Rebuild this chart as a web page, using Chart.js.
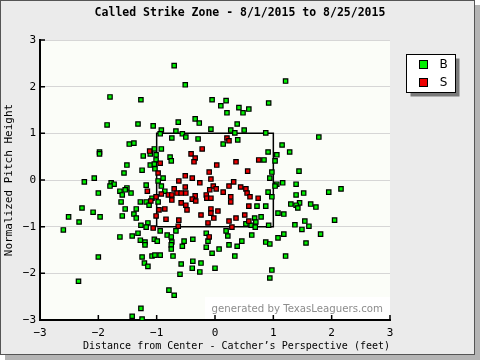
<!DOCTYPE html>
<html><head><meta charset="utf-8">
<script src="https://cdn.jsdelivr.net/npm/chart.js@4/dist/chart.umd.min.js"></script>
<style>html,body{margin:0;padding:0;background:#fff;}canvas{display:block;}</style>
</head><body><canvas id="c" width="480" height="360"></canvas>
<script>
const titleText = 'Called Strike Zone - 8/1/2015 to 8/25/2015';
const xAxisTitle = 'Distance from Center - Catcher\u2019s Perspective (feet)';
const yAxisTitle = 'Normalized Pitch Height';
const watermarkText = 'generated by TexasLeaguers.com';
const seriesNames = ['B', 'S'];
const seriesColors = ['#00f000', '#ee0000'];
const tickValues = [-3, -2, -1, 0, 1, 2, 3];
const zoneX = [-1, 1, 1, -1, -1];
const zoneY = [-1, -1, 1, 1, -1];

const ballX = [-1.80,-1.27,-1.85,-1.32,-1.06,-0.70,-0.51,-0.05,0.19,0.10,0.205,0.41,0.58,0.48,0.92,-0.63,-0.34,-0.27,0.38,-0.07,0.27,0.50,-0.67,-0.92,-0.56,0.34,0.87,1.21,
-1.47,-1.39,-1.98,-1.98,-1.04,-1.11,-1.23,-1.01,-1.01,-1.51,-1.11,-1.04,-1.03,-1.25,-1.56,-2.24,-2.07,-1.78,-1.73,-1.80,-1.51,-1.54,-1.63,-1.44,-1.59,-2.00,-1.18,-1.08,-1.28,-1.18,-1.13,-1.61,-1.35,-1.54,-1.39,-2.28,-2.09,-1.59,-1.35,-2.51,-1.97,-2.33,-1.15,-1.27,-1.18,-2.60,
-0.94,-0.74,-0.50,-0.29,0.14,0.39,-0.92,-0.77,-0.75,0.91,0.84,0.94,0.975,-0.89,-0.975,-0.92,-0.86,0.91,0.975,-0.975,0.72,0.87,0.68,0.79,0.70,0.53,0.62,0.92,0.69,
1.78,1.15,1.28,1.06,1.03,1.44,1.06,1.16,1.39,1.03,1.39,1.52,1.95,2.16,1.30,1.45,1.39,1.42,1.64,1.73,1.08,1.18,2.05,1.37,1.54,1.61,1.49,
-1.63,-1.42,-1.32,-1.28,-1.20,-1.20,-1.04,-0.99,-2.00,-1.25,-1.08,-1.03,-1.21,-1.15,-2.34,-1.27,-1.42,-1.25,
-0.94,-0.67,-0.82,-0.75,-0.74,-0.75,-0.75,-0.53,-0.38,-0.56,-0.15,-0.12,-0.15,0.19,0.22,0.46,0.63,0.87,0.94,0.24,0.38,0.07,-0.05,0.34,-0.72,-0.94,-0.38,-0.24,-0.58,-0.39,0.00,-0.26,-0.60,0.975,0.94,-0.79,-0.70,
1.18,1.08,1.81,1.56,1.21];
const ballY = [1.78,1.72,1.18,1.20,1.16,2.45,2.04,1.72,1.70,1.59,1.44,1.55,1.52,1.44,1.65,1.24,1.31,1.22,1.20,1.09,1.07,1.07,1.05,1.07,0.99,1.01,1.01,2.12,
0.77,0.79,0.60,0.56,0.665,0.56,0.515,0.54,0.43,0.32,0.32,0.34,0.24,0.21,0.15,-0.04,0.04,-0.06,-0.09,-0.13,-0.17,-0.21,-0.24,-0.28,-0.32,-0.28,-0.11,-0.39,-0.47,-0.47,-0.54,-0.47,-0.62,-0.62,-0.73,-0.60,-0.69,-0.77,-0.815,-0.79,-0.79,-0.90,-0.92,-0.97,-1.01,-1.07,
0.99,0.90,0.92,0.88,0.77,0.86,0.665,0.49,0.41,0.60,0.43,0.04,0.17,0.04,-0.02,-0.13,-0.24,-0.26,-0.36,-0.47,-0.56,-0.56,-0.815,-0.79,-0.90,-0.94,-0.97,-0.97,-1.01,
0.92,0.75,0.60,0.54,0.41,0.19,-0.09,-0.06,-0.09,-0.13,-0.32,-0.28,-0.26,-0.19,-0.515,-0.49,-0.54,-0.60,-0.515,-0.58,-0.71,-0.73,-0.86,-0.96,-0.88,-0.99,-1.06,
-1.22,-1.20,-1.14,-1.29,-1.33,-1.39,-1.27,-1.31,-1.65,-1.65,-1.63,-1.61,-1.78,-1.85,-2.17,-2.75,-2.92,-2.98,
-1.09,-1.09,-1.18,-1.22,-1.33,-1.39,-1.48,-1.31,-1.27,-1.42,-1.14,-1.31,-1.44,-1.09,-1.20,-1.31,-1.18,-1.33,-1.37,-1.39,-1.42,-1.48,-1.57,-1.63,-1.63,-1.61,-1.74,-1.78,-1.80,-1.89,-1.89,-1.97,-2.02,-1.93,-2.10,-2.36,-2.47,
-1.16,-1.24,-1.16,-1.35,-1.63];

const strikeX = [-1.12,-1.16,-1.01,-1.10,-1.01,-1.06,
0.205,0.24,-0.22,-0.41,-0.34,-0.36,0.03,0.36,0.75,-0.94,-0.10,0.56,-0.975,-0.51,-0.39,-0.62,-0.07,-0.26,0.32,-0.03,0.24,0.44,0.53,-0.51,-0.70,0.02,-0.09,0.14,0.55,-0.65,-0.58,-0.50,-0.80,-0.74,-0.92,-0.34,-0.15,-0.14,0.27,0.60,-0.74,-0.39,-0.07,-0.33,0.27,0.74,-0.58,-0.50,0.58,-0.96,-0.86,-0.48,-0.07,0.05,-0.07,-0.24,0.51,-0.02,0.36,-0.84,-0.62,0.24,0.58,-0.12,-0.63,0.29,
-0.10];
const strikeY = [0.62,-0.24,-0.36,-0.45,-0.77,-1.03,
0.90,0.84,0.665,0.56,0.47,0.39,0.32,0.39,0.43,0.36,0.17,0.19,0.15,0.09,0.04,-0.02,0.02,-0.06,-0.04,-0.13,-0.13,-0.15,-0.19,-0.15,-0.19,-0.19,-0.21,-0.26,-0.28,-0.28,-0.28,-0.28,-0.32,-0.32,-0.30,-0.34,-0.32,-0.39,-0.36,-0.36,-0.43,-0.41,-0.39,-0.45,-0.47,-0.39,-0.49,-0.54,-0.56,-0.64,-0.62,-0.64,-0.62,-0.665,-0.71,-0.75,-0.75,-0.815,-0.815,-0.84,-0.86,-0.88,-0.88,-0.92,-0.99,-1.01,
-1.22];

function pts(xs, ys) { return xs.map((x, i) => ({ x: x, y: ys[i] })); }
function fmt(v) { return v < 0 ? '\u2212' + Math.abs(v) : String(v); }

const MONO = "'DejaVu Sans Mono', 'Liberation Mono', monospace";

const decor = {
  id: 'decor',
  beforeDraw(chart) {
    const ctx = chart.ctx, a = chart.chartArea;
    ctx.save();
    ctx.fillStyle = '#ffffff'; ctx.fillRect(0, 0, 480, 360);
    ctx.fillStyle = '#b4b4b4'; ctx.fillRect(5, 5, 475, 355);
    ctx.fillStyle = '#ebebeb'; ctx.fillRect(0, 0, 475, 355);
    ctx.strokeStyle = '#555'; ctx.lineWidth = 1; ctx.strokeRect(0.5, 0.5, 474, 354);
    ctx.fillStyle = '#fbfdf8'; ctx.fillRect(a.left, a.top, a.right - a.left, a.bottom - a.top);
    ctx.restore();
  },
  beforeDatasetsDraw(chart) {
    const ctx = chart.ctx, a = chart.chartArea;
    ctx.save();
    ctx.fillStyle = '#ffffff';
    ctx.fillRect(205, a.bottom - 23, a.right - 205, 22);
    ctx.fillStyle = '#8c8c8c';
    ctx.font = "10.2px 'DejaVu Sans', sans-serif";
    ctx.textAlign = 'right'; ctx.textBaseline = 'middle';
    ctx.fillText(watermarkText, a.right - 7, a.bottom - 11);
    ctx.restore();
  },
  afterDraw(chart) {
    const ctx = chart.ctx, a = chart.chartArea;
    const xs = chart.scales.x, ys = chart.scales.y;
    ctx.save();
    ctx.strokeStyle = '#000'; ctx.lineWidth = 1.5;
    ctx.beginPath();
    tickValues.forEach(v => {
      const px = xs.getPixelForValue(v);
      ctx.moveTo(px, a.bottom); ctx.lineTo(px, a.bottom - 5);
      const py = ys.getPixelForValue(v);
      ctx.moveTo(a.left, py); ctx.lineTo(a.left + 5, py);
    });
    ctx.stroke();
    // legend
    const bx = 406.5, by = 54.5, bw = 49, bh = 38;
    ctx.fillStyle = '#7a7a7a'; ctx.fillRect(bx + 4, by + 4, bw, bh);
    ctx.fillStyle = '#fff'; ctx.fillRect(bx, by, bw, bh);
    ctx.strokeStyle = '#000'; ctx.lineWidth = 1; ctx.strokeRect(bx, by, bw, bh);
    const ds = chart.data.datasets.slice(1);
    ds.forEach((d, i) => {
      const cy = 64.5 + i * 18;
      ctx.fillStyle = d.backgroundColor; ctx.fillRect(419.5, cy - 4, 8, 8);
      ctx.strokeRect(419.5, cy - 4, 8, 8);
      ctx.fillStyle = '#000'; ctx.font = "12px 'DejaVu Sans', sans-serif";
      ctx.textAlign = 'center'; ctx.textBaseline = 'middle';
      ctx.fillText(d.label, 443.5, cy + 0.5);
    });
    ctx.restore();
  }
};

new Chart(document.getElementById('c'), {
  type: 'scatter',
  data: {
    datasets: [
      { label: 'zone', data: pts(zoneX, zoneY), showLine: true, borderColor: '#000', borderWidth: 1.5, pointRadius: 0, fill: false, tension: 0, order: 3 },
      { label: seriesNames[0], data: pts(ballX, ballY), backgroundColor: seriesColors[0], borderColor: '#000', borderWidth: 1.2, pointStyle: 'rect', pointRadius: 3.1, order: 2 },
      { label: seriesNames[1], data: pts(strikeX, strikeY), backgroundColor: seriesColors[1], borderColor: '#000', borderWidth: 1.2, pointStyle: 'rect', pointRadius: 3.1, order: 1 }
    ]
  },
  options: {
    responsive: false, animation: false, devicePixelRatio: 1, events: [],
    layout: { padding: { top: 0, right: 0, bottom: 0, left: 0 } },
    plugins: {
      legend: { display: false }, tooltip: { enabled: false },
      title: { display: true, text: titleText, color: '#000', font: { family: MONO, size: 11.5, weight: 'bold', lineHeight: 1.2 }, padding: { top: 6, bottom: 20.2 } }
    },
    scales: {
      x: {
        type: 'linear', min: -3, max: 3,
        afterFit(s) { s.height = 40; },
        afterBuildTicks(s) { s.ticks = tickValues.map(v => ({ value: v })); },
        ticks: { padding: 7, color: '#000', font: { family: MONO, size: 11 }, callback: v => fmt(v), maxRotation: 0, autoSkip: false },
        grid: { display: false, drawTicks: false },
        border: { display: true, color: '#000', width: 2 },
        title: { display: true, align: 'end', text: xAxisTitle, color: '#000', font: { family: MONO, size: 10 }, padding: { top: 0, bottom: 8 } }
      },
      y: {
        type: 'linear', min: -3, max: 3,
        afterFit(s) { s.width = 40; },
        afterBuildTicks(s) { s.ticks = tickValues.map(v => ({ value: v })); },
        ticks: { padding: 4, color: '#000', font: { family: MONO, size: 11 }, callback: v => fmt(v) },
        grid: { color: '#d6d6d6', lineWidth: 1, drawTicks: false },
        border: { display: true, color: '#000', width: 2 },
        title: { display: true, text: yAxisTitle, color: '#000', font: { family: MONO, size: 11 }, padding: { top: 3, bottom: 0 } }
      },
      yRight: {
        type: 'linear', position: 'right', display: true,
        afterFit(s) { s.width = 90; },
        ticks: { display: false },
        grid: { display: false, drawTicks: false },
        border: { display: false }
      }
    }
  },
  plugins: [decor]
});
</script>
</body></html>
